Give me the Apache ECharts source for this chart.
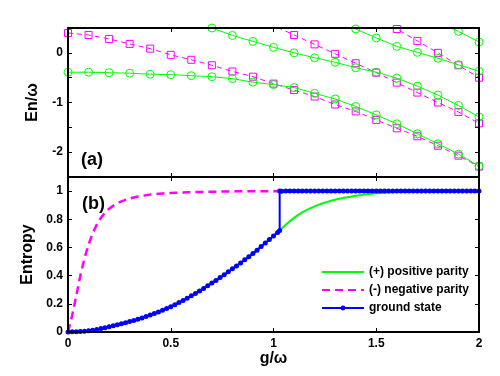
<!DOCTYPE html>
<html>
<head>
<meta charset="utf-8">
<script src="https://cdn.jsdelivr.net/npm/echarts@6/dist/echarts.min.js"></script>
<style>
html,body{margin:0;padding:0;background:#fff;}
#chart{width:500px;height:376px;}
</style>
</head>
<body>
<div id="chart"></div>
<script>
// ---------- Panel (a): energy levels, sampled every 0.1 in g/omega ----------
const gTop = [0,0.1,0.2,0.3,0.4,0.5,0.6,0.7,0.8,0.9,1.0,1.1,1.2,1.3,1.4,1.5,1.6,1.7,1.8,1.9,2.0];
// positive parity levels (green circles)
const ePos1 = [-0.39,-0.39,-0.40,-0.41,-0.43,-0.44,-0.46,-0.48,-0.52,-0.59,-0.64,-0.70,-0.815,-0.93,-1.08,-1.25,-1.43,-1.63,-1.83,-2.04,-2.28];
const ePos2 = [null,null,null,null,null,null,0.66,0.50,0.35,0.23,0.11,0.00,-0.10,-0.19,-0.30,-0.39,-0.51,-0.67,-0.85,-1.06,-1.29];
const ePos3 = [null,null,null,null,null,null,null,null,null,null,null,null,null,0.68,0.48,0.30,0.13,0.01,-0.11,-0.24,-0.37];
const ePos4 = [null,null,null,null,null,null,null,null,null,null,null,null,null,null,null,null,null,null,0.62,0.43,0.22];
// negative parity levels (magenta squares)
const eNeg1 = [0.40,0.36,0.28,0.18,0.085,-0.04,-0.14,-0.25,-0.375,-0.48,-0.62,-0.75,-0.88,-1.04,-1.18,-1.35,-1.52,-1.68,-1.87,-2.07,-2.29];
const eNeg2 = [null,null,null,null,null,null,null,null,null,0.75,0.55,0.36,0.17,-0.02,-0.21,-0.40,-0.60,-0.80,-1.00,-1.19,-1.42];
const eNeg3 = [null,null,null,null,null,null,null,null,null,null,null,null,null,null,null,0.72,0.48,0.24,0.00,-0.25,-0.50];

// ---------- Panel (b): entropy, sampled every 0.02 in g/omega ----------
const gBottom = Array.from({length:101}, (_, i) => +(i * 0.02).toFixed(2));
const sPos = [
 0.000,0.001,0.002,0.004,0.006,0.009,0.013,0.018,0.024,0.030,
 0.037,0.044,0.051,0.058,0.066,0.074,0.082,0.091,0.100,0.110,
 0.120,0.131,0.142,0.154,0.167,0.180,0.194,0.209,0.224,0.240,
 0.257,0.274,0.291,0.309,0.328,0.347,0.366,0.386,0.406,0.427,
 0.448,0.469,0.490,0.512,0.534,0.557,0.581,0.606,0.631,0.656,
 0.681,0.707,0.734,0.761,0.787,0.810,0.831,0.849,0.865,0.879,
 0.892,0.904,0.914,0.923,0.931,0.939,0.946,0.952,0.957,0.962,
 0.967,0.971,0.975,0.978,0.981,0.984,0.986,0.988,0.990,0.992,
 0.993,0.994,0.995,0.996,0.997,0.998,0.998,0.999,0.999,0.999,
 0.999,1.000,1.000,1.000,1.000,1.000,1.000,1.000,1.000,1.000,
 1.000];
const sNeg = [
 0.000,0.115,0.255,0.400,0.520,0.620,0.700,0.762,0.810,0.848,
 0.875,0.896,0.913,0.927,0.938,0.947,0.955,0.961,0.966,0.971,
 0.975,0.978,0.981,0.983,0.985,0.987,0.988,0.989,0.990,0.991,
 0.992,0.993,0.994,0.994,0.995,0.995,0.996,0.996,0.997,0.997,
 0.997,0.998,0.998,0.998,0.998,0.999,0.999,0.999,0.999,0.999,
 0.999,0.999,0.999,1.000,1.000,1.000,1.000,1.000,1.000,1.000,
 1.000,1.000,1.000,1.000,1.000,1.000,1.000,1.000,1.000,1.000,
 1.000,1.000,1.000,1.000,1.000,1.000,1.000,1.000,1.000,1.000,
 1.000,1.000,1.000,1.000,1.000,1.000,1.000,1.000,1.000,1.000,
 1.000,1.000,1.000,1.000,1.000,1.000,1.000,1.000,1.000,1.000,
 1.000];
const sGround = [
 0.000,0.001,0.002,0.004,0.006,0.009,0.013,0.018,0.024,0.030,
 0.037,0.044,0.051,0.058,0.066,0.074,0.082,0.091,0.100,0.110,
 0.120,0.131,0.142,0.154,0.167,0.180,0.194,0.209,0.224,0.240,
 0.257,0.274,0.291,0.309,0.328,0.347,0.366,0.386,0.406,0.427,
 0.448,0.469,0.490,0.512,0.534,0.557,0.581,0.606,0.631,0.656,
 0.681,0.707,0.999,1.000,1.000,1.000,1.000,1.000,1.000,1.000,
 1.000,1.000,1.000,1.000,1.000,1.000,1.000,1.000,1.000,1.000,
 1.000,1.000,1.000,1.000,1.000,1.000,1.000,1.000,1.000,1.000,
 1.000,1.000,1.000,1.000,1.000,1.000,1.000,1.000,1.000,1.000,
 1.000,1.000,1.000,1.000,1.000,1.000,1.000,1.000,1.000,1.000,
 1.000];
// level crossing of the ground state
const gCross = 1.03;
const sCrossBelow = 0.720;
const sCrossAbove = 1.000;

const legendNames = ['(+) positive parity', '(-) negative parity', 'ground state'];
const xTicks = ['0','0.5','1','1.5','2'];

const GREEN = '#00ff00', MAGENTA = '#ff00ff', BLUE = '#0000ff';
const FONT = "'Liberation Sans', Arial, Helvetica, sans-serif";

function pairs(xs, ys) {
  const out = [];
  for (let i = 0; i < xs.length; i++) if (ys[i] !== null) out.push([xs[i], ys[i]]);
  return out;
}
// ground-state points with the vertical jump at the crossing
const groundData = [];
for (let i = 0; i < gBottom.length; i++) {
  if (gBottom[i] > gCross && groundData.length && groundData[groundData.length-1][0] < gCross) {
    groundData.push([gCross, sCrossBelow]);
    groundData.push([gCross, sCrossAbove]);
  }
  groundData.push([gBottom[i], sGround[i]]);
}

const tick = {show:true, inside:true, length:4, lineStyle:{color:'#000', width:1}};
const noLine = {show:false, onZero:false};
const lbl = {color:'#000', fontFamily:FONT, fontWeight:'bold', fontSize:12};

function posSeries(name, arr) {
  return {name, type:'line', xAxisIndex:0, yAxisIndex:0, data:pairs(gTop, arr),
    symbol:'circle', symbolSize:8, clip:true,
    itemStyle:{color:'rgba(0,0,0,0)', borderColor:GREEN, borderWidth:1},
    lineStyle:{color:GREEN, width:1}, z:3};
}
function negSeries(name, arr) {
  return {name, type:'line', xAxisIndex:0, yAxisIndex:0, data:pairs(gTop, arr),
    symbol:'rect', symbolSize:7, clip:true,
    itemStyle:{color:'rgba(0,0,0,0)', borderColor:MAGENTA, borderWidth:1},
    lineStyle:{color:MAGENTA, width:1, type:[5,4]}, z:2};
}

const chart = echarts.init(document.getElementById('chart'), null, {renderer:'canvas'});
chart.setOption({
  animation:false,
  backgroundColor:'#fff',
  grid:[
    {left:68, top:28, width:411, height:149, show:true, borderColor:'#000', borderWidth:2, backgroundColor:'rgba(0,0,0,0)', z:10},
    {left:68, top:177, width:411, height:155, show:true, borderColor:'#000', borderWidth:2, backgroundColor:'rgba(0,0,0,0)', z:10}
  ],
  xAxis:[
    {type:'value', gridIndex:0, min:0, max:2, interval:0.5, position:'bottom', axisLine:noLine, axisTick:tick, axisLabel:{show:false}, splitLine:{show:false}},
    {type:'value', gridIndex:0, min:0, max:2, interval:0.5, position:'top', axisLine:noLine, axisTick:tick, axisLabel:{show:false}, splitLine:{show:false}},
    {type:'value', gridIndex:1, min:0, max:2, interval:0.5, position:'bottom', axisLine:noLine, axisTick:tick,
      axisLabel:Object.assign({margin:6, formatter:(v)=>xTicks[Math.round(v/0.5)]}, lbl), splitLine:{show:false},
      name:'g/\u03c9', nameLocation:'middle', nameGap:19, nameTextStyle:{color:'#000', fontFamily:FONT, fontWeight:'bold', fontSize:16}},
    {type:'value', gridIndex:1, min:0, max:2, interval:0.5, position:'top', axisLine:noLine, axisTick:tick, axisLabel:{show:false}, splitLine:{show:false}}
  ],
  yAxis:[
    {type:'value', gridIndex:0, min:-2.5, max:0.5, interval:0.5, position:'left', axisLine:noLine, axisTick:tick,
      axisLabel:Object.assign({margin:5, formatter:(v)=> Number.isInteger(v) ? String(v) : ''}, lbl), splitLine:{show:false},
      name:'En/\u03c9', nameLocation:'middle', nameGap:27, nameTextStyle:{color:'#000', fontFamily:FONT, fontWeight:'bold', fontSize:16}},
    {type:'value', gridIndex:0, min:-2.5, max:0.5, interval:0.5, position:'right', axisLine:noLine, axisTick:tick, axisLabel:{show:false}, splitLine:{show:false}},
    {type:'value', gridIndex:1, min:0, max:1.1, interval:0.2, position:'left', axisLine:noLine, axisTick:tick,
      axisLabel:Object.assign({margin:5, showMaxLabel:false}, lbl), splitLine:{show:false},
      name:'Entropy', nameLocation:'middle', nameGap:27, nameTextStyle:{color:'#000', fontFamily:FONT, fontWeight:'bold', fontSize:16}},
    {type:'value', gridIndex:1, min:0, max:1.1, interval:0.2, position:'right', axisLine:noLine, axisTick:tick, axisLabel:{show:false}, splitLine:{show:false}}
  ],
  legend:{
    data:[
      {name:legendNames[0], itemStyle:{opacity:0}},
      {name:legendNames[1], itemStyle:{opacity:0}},
      {name:legendNames[2]}
    ],
    orient:'vertical', left:316, top:261, itemWidth:42, itemHeight:6, itemGap:6,
    textStyle:{color:'#000', fontFamily:FONT, fontWeight:'bold', fontSize:12}, selectedMode:false
  },
  graphic:[
    {type:'text', left:81, top:151, style:{text:'(a)', fill:'#000', font:"bold 18px 'Liberation Sans', Arial, sans-serif"}, z:20},
    {type:'text', left:82, top:195, style:{text:'(b)', fill:'#000', font:"bold 18px 'Liberation Sans', Arial, sans-serif"}, z:20}
  ],
  series:[
    negSeries('neg1', eNeg1), negSeries('neg2', eNeg2), negSeries('neg3', eNeg3),
    posSeries('pos1', ePos1), posSeries('pos2', ePos2), posSeries('pos3', ePos3), posSeries('pos4', ePos4),
    {name:legendNames[0], type:'line', xAxisIndex:2, yAxisIndex:2, data:pairs(gBottom, sPos), symbol:'none',
      lineStyle:{color:GREEN, width:2}, itemStyle:{color:GREEN}, z:3},
    {name:legendNames[1], type:'line', xAxisIndex:2, yAxisIndex:2, data:pairs(gBottom, sNeg), symbol:'none',
      lineStyle:{color:MAGENTA, width:2.5, type:[8,5]}, itemStyle:{color:MAGENTA}, z:3},
    {name:legendNames[2], type:'line', xAxisIndex:2, yAxisIndex:2, data:groundData, symbol:'circle', symbolSize:5, showAllSymbol:true,
      lineStyle:{color:BLUE, width:2}, itemStyle:{color:BLUE}, z:4}
  ]
});
</script>
</body>
</html>
